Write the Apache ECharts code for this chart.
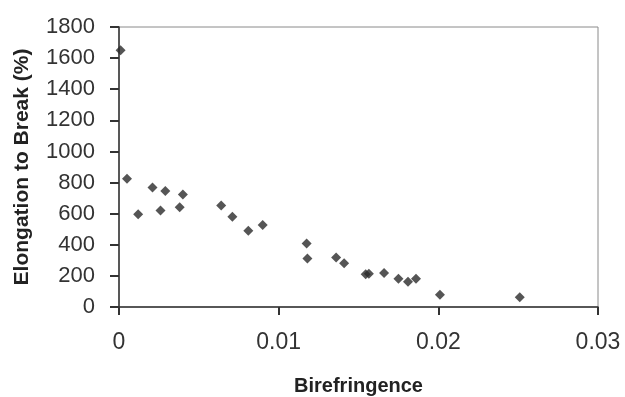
<!DOCTYPE html>
<html>
<head>
<meta charset="utf-8">
<script src="https://cdn.jsdelivr.net/npm/echarts@6/dist/echarts.min.js"></script>
<style>html,body{margin:0;padding:0;background:#fff}#c{width:625px;height:397px}</style>
</head>
<body>
<div id="c"></div>
<script>
var birefringence = [0.0001, 0.0005, 0.0012, 0.0021, 0.0026, 0.0029, 0.0038, 0.0040, 0.0064, 0.0071, 0.0081, 0.0090, 0.01175, 0.0118, 0.0136, 0.0141, 0.01545, 0.01565, 0.0166, 0.0175, 0.0181, 0.0186, 0.0201, 0.0251];
var elongation = [1651, 824, 597, 768, 620, 745, 642, 723, 653, 580, 490, 527, 409, 311, 319, 281, 210, 213, 219, 181, 163, 181, 78, 63];
var xTicks = [0, 0.01, 0.02, 0.03];
var yTicks = [0, 200, 400, 600, 800, 1000, 1200, 1400, 1600, 1800];

var points = birefringence.map(function (x, i) { return [x, elongation[i]]; });
var chart = echarts.init(document.getElementById('c'), null, { renderer: 'canvas' });
var font = 'Liberation Sans, Arial, sans-serif';
chart.setOption({
  animation: false,
  backgroundColor: '#fff',
  grid: { left: 119, right: 27, top: 27, bottom: 90, containLabel: false, outerBoundsMode: 'none',
    show: true, borderColor: '#8a8a8a', borderWidth: 1 },
  xAxis: {
    type: 'value', min: xTicks[0], max: xTicks[xTicks.length - 1], interval: 0.01,
    name: 'Birefringence', nameLocation: 'middle', nameGap: 69,
    nameTextStyle: { fontFamily: font, fontWeight: 'bold', fontSize: 20, color: '#222' },
    axisLine: { show: true, onZero: false, lineStyle: { color: '#333', width: 1.5 } },
    axisTick: { show: true, inside: false, length: 8, lineStyle: { color: '#333', width: 2 } },
    axisLabel: { fontFamily: font, fontSize: 23, color: '#333', margin: 24,
      formatter: function (v) { return xTicks.indexOf(v) >= 0 ? String(v) : ''; } },
    splitLine: { show: false }
  },
  yAxis: {
    type: 'value', min: yTicks[0], max: yTicks[yTicks.length - 1], interval: 200,
    name: 'Elongation to Break (%)', nameLocation: 'middle', nameGap: 86, nameRotate: 90,
    nameTextStyle: { fontFamily: font, fontWeight: 'bold', fontSize: 21, color: '#222' },
    axisLine: { show: true, onZero: false, lineStyle: { color: '#333', width: 1.5 } },
    axisTick: { show: true, inside: false, length: 9, lineStyle: { color: '#333', width: 2 } },
    axisLabel: { fontFamily: font, fontSize: 22, color: '#333', margin: 24,
      formatter: function (v) { return String(v); } },
    splitLine: { show: false }
  },
  series: [{
    type: 'scatter', data: points, symbol: 'diamond', symbolSize: 10,
    itemStyle: { color: '#2a2a2a' }
  }]
});
</script>
</body>
</html>
